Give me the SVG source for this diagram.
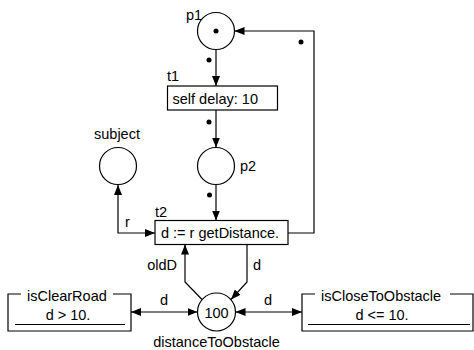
<svg xmlns="http://www.w3.org/2000/svg" width="474" height="350" viewBox="0 0 474 350">
<style>
  text { font-family: "Liberation Sans", Arial, sans-serif; font-size: 14.5px; fill: #000; }
  .m { text-anchor: middle; }
  .e { text-anchor: end; }
  .shape { fill: #fff; stroke: #000; stroke-width: 1.2; }
  .line { fill: none; stroke: #000; stroke-width: 1.2; }
  .arc { fill: none; stroke: #000; stroke-width: 1.2; marker-end: url(#ah); }
  .both { marker-start: url(#ah); }
  .tok { fill: #000; }
</style>
<defs>
  <marker id="ah" markerUnits="userSpaceOnUse" markerWidth="10" markerHeight="10" viewBox="0 0 10 10" refX="10" refY="5" orient="auto-start-reverse">
    <path d="M0,1 L10,5 L0,9 z" fill="#000"/>
  </marker>
</defs>

<g id="connectors">
  <path class="arc" d="M216,49.5 V86"/>
  <path class="arc" d="M216,110 V147.5"/>
  <path class="arc" d="M216,184.5 V220.5"/>
  <path class="arc both" d="M155,233 H118 V185"/>
  <path class="arc" d="M288,233 H314 V31 H234.5"/>
  <path class="arc" d="M202,299.5 L185,282 V244.5"/>
  <path class="arc" d="M247,244.5 V282 L231,299.5"/>
  <path class="arc both" d="M131,312 H197.5"/>
  <path class="arc both" d="M235.5,312 H302"/>
  <circle class="tok" cx="209" cy="60" r="2.5"/>
  <circle class="tok" cx="209" cy="122" r="2.5"/>
  <circle class="tok" cx="209.5" cy="195" r="2.5"/>
  <circle class="tok" cx="301" cy="42" r="2.5"/>
  <text x="177" y="270" class="e">oldD</text>
  <text x="253" y="270">d</text>
  <text x="164" y="305" class="m">d</text>
  <text x="268" y="305" class="m">d</text>
  <text x="125" y="227">r</text>
</g>

<g id="p1">
  <circle class="shape" cx="216" cy="31" r="18.5"/>
  <circle class="tok" cx="216" cy="31" r="2.5"/>
  <text x="186" y="20">p1</text>
</g>

<g id="t1">
  <rect class="shape" x="167.5" y="86" width="110" height="24"/>
  <text x="172.5" y="104">self delay: 10</text>
  <text x="167" y="80.5">t1</text>
</g>

<g id="p2">
  <circle class="shape" cx="216" cy="166" r="18.5"/>
  <text x="240" y="171">p2</text>
</g>

<g id="subject">
  <circle class="shape" cx="118" cy="166" r="18.5"/>
  <text x="117" y="139" class="m">subject</text>
</g>

<g id="t2">
  <rect class="shape" x="155" y="220.5" width="133" height="24"/>
  <text x="161" y="237.5">d := r getDistance.</text>
  <text x="155" y="217">t2</text>
</g>

<g id="distanceToObstacle">
  <circle class="shape" cx="216.5" cy="312" r="19"/>
  <text x="216.5" y="317.5" class="m">100</text>
  <text x="216.5" y="347" class="m">distanceToObstacle</text>
</g>

<g id="isClearRoad">
  <path class="line" d="M21,294 H8 V331 H131 V294 H113"/>
  <path class="line" d="M15,324.5 H125"/>
  <text x="27" y="301">isClearRoad</text>
  <text x="68" y="319.5" class="m">d &gt; 10.</text>
</g>

<g id="isCloseToObstacle">
  <path class="line" d="M315,294 H302 V331 H473 V294 H450"/>
  <path class="line" d="M308,324.5 H470"/>
  <text x="321" y="301">isCloseToObstacle</text>
  <text x="382" y="319.5" class="m">d &lt;= 10.</text>
</g>
</svg>
